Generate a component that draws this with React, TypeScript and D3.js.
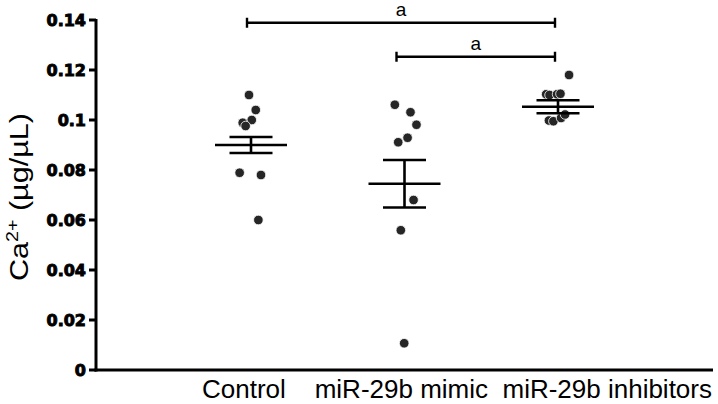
import React, { useRef, useEffect } from "react";
import * as d3 from "d3";

// groups on the x axis
const categories = ["Control", "miR-29b mimic", "miR-29b inhibitors"];

const controlValues = [0.110, 0.104, 0.100, 0.0989, 0.0976, 0.0789, 0.078, 0.060];
const mimicValues = [0.1061, 0.1031, 0.0981, 0.0929, 0.0911, 0.068, 0.0559, 0.0107];
const inhibitorValues = [0.118, 0.1103, 0.110, 0.1103, 0.1105, 0.0998, 0.0995, 0.1008, 0.1022];

// horizontal scatter of each dot, as a fraction of the group spacing
const controlJitter = [-0.013, 0.031, 0.005, -0.054, -0.035, -0.074, 0.065, 0.048];
const mimicJitter = [-0.063, 0.039, 0.078, 0.02, -0.041, 0.059, -0.024, -0.002];
const inhibitorJitter = [0.072, -0.077, -0.055, -0.006, 0.016, -0.059, -0.03, 0.02, 0.046];

// mean ± SEM as plotted
const means = [0.090, 0.0745, 0.1053];
const sems = [0.0032, 0.0095, 0.0026];

// significance brackets
const bracketFrom = ["Control", "miR-29b mimic"];
const bracketTo = ["miR-29b inhibitors", "miR-29b inhibitors"];
const bracketLevel = [0.1389, 0.1253];
const bracketLabel = ["a", "a"];

const yTicks = [0, 0.02, 0.04, 0.06, 0.08, 0.1, 0.12, 0.14];
const yTickLabels = ["0", "0.02", "0.04", "0.06", "0.08", "0.1", "0.12", "0.14"];

const groupValues = [controlValues, mimicValues, inhibitorValues];
const groupJitter = [controlJitter, mimicJitter, inhibitorJitter];

const App = () => {
  const svgRef = useRef(null);

  useEffect(() => {
    const svg = d3.select(svgRef.current);
    svg.selectAll("*").remove();

    const axisX = 96;
    const axisY = 370;

    const x = d3.scalePoint().domain(categories).range([251, 558]);
    const step = x.step();
    const y = d3.scaleLinear().domain([0, 0.14]).range([axisY, 20]);

    const g = svg.append("g");

    // y axis
    g.append("line")
      .attr("x1", axisX).attr("x2", axisX)
      .attr("y1", y(0.14) - 1).attr("y2", axisY + 1.5)
      .attr("stroke", "#000").attr("stroke-width", 3);

    g.selectAll(".ytick")
      .data(yTicks)
      .enter()
      .append("line")
      .attr("x1", axisX - 7).attr("x2", axisX)
      .attr("y1", (d) => y(d)).attr("y2", (d) => y(d))
      .attr("stroke", "#000").attr("stroke-width", 3);

    g.selectAll(".ylabel")
      .data(yTicks)
      .enter()
      .append("text")
      .attr("x", axisX - 10)
      .attr("y", (d) => y(d))
      .attr("dy", "0.36em")
      .attr("text-anchor", "end")
      .attr("font-family", "DejaVu Sans, sans-serif")
      .attr("font-weight", "bold")
      .attr("font-size", 16)
      .attr("fill", "#000")
      .attr("stroke", "#000")
      .attr("stroke-width", 0.9)
      .text((d, i) => yTickLabels[i]);

    // x axis
    g.append("line")
      .attr("x1", axisX - 1.5).attr("x2", 713)
      .attr("y1", axisY).attr("y2", axisY)
      .attr("stroke", "#000").attr("stroke-width", 3);

    // y axis title
    const title = g.append("text")
      .attr("transform", `translate(28,${(y(0) + y(0.14)) / 2 + 2}) rotate(-90)`)
      .attr("text-anchor", "middle")
      .attr("font-family", "Liberation Sans, Arial, sans-serif")
      .attr("font-size", 25)
      .attr("fill", "#000")
      .attr("textLength", 168)
      .attr("lengthAdjust", "spacingAndGlyphs");
    title.append("tspan").text("Ca");
    title.append("tspan").attr("font-size", 16).attr("dy", -10).text("2+");
    title.append("tspan").attr("dy", 10).text(" (µg/µL)");

    // category labels, one line under the axis
    g.append("text")
      .attr("x", 712)
      .attr("y", 398)
      .attr("text-anchor", "end")
      .attr("font-family", "Liberation Sans, Arial, sans-serif")
      .attr("font-size", 26)
      .attr("fill", "#000")
      .style("white-space", "pre")
      .text(`${categories[0]}    ${categories[1]}  ${categories[2]}`);

    // dots
    categories.forEach((c, gi) => {
      g.selectAll(`.dot-${gi}`)
        .data(groupValues[gi])
        .enter()
        .append("circle")
        .attr("class", `dot-${gi}`)
        .attr("cx", (d, i) => x(c) + groupJitter[gi][i] * step)
        .attr("cy", (d) => y(d))
        .attr("r", 4.8)
        .attr("fill", "#262626")
        .attr("stroke", "#fff")
        .attr("stroke-width", 0.8);
    });

    // mean and SEM bars
    categories.forEach((c, gi) => {
      const cx = x(c);
      const m = means[gi];
      const s = sems[gi];
      const bar = g.append("g").attr("stroke", "#000").attr("stroke-width", 2.6);
      bar.append("line")
        .attr("x1", cx - 36).attr("x2", cx + 36)
        .attr("y1", y(m)).attr("y2", y(m));
      bar.append("line")
        .attr("x1", cx).attr("x2", cx)
        .attr("y1", y(m + s)).attr("y2", y(m - s));
      [m + s, m - s].forEach((v) => {
        bar.append("line")
          .attr("x1", cx - 21.5).attr("x2", cx + 21.5)
          .attr("y1", y(v)).attr("y2", y(v));
      });
    });

    // significance brackets
    bracketFrom.forEach((from, i) => {
      const x1 = x(from) - (i === 0 ? 4 : 8);
      const x2 = x(bracketTo[i]) - 3;
      const yy = y(bracketLevel[i]);
      const b = g.append("g").attr("stroke", "#000").attr("stroke-width", 2.4);
      b.append("line").attr("x1", x1).attr("x2", x2).attr("y1", yy).attr("y2", yy);
      b.append("line").attr("x1", x1).attr("x2", x1).attr("y1", yy - 5).attr("y2", yy + 5);
      b.append("line").attr("x1", x2).attr("x2", x2).attr("y1", yy - 5).attr("y2", yy + 5);
      g.append("text")
        .attr("x", (x1 + x2) / 2)
        .attr("y", yy - 7)
        .attr("text-anchor", "middle")
        .attr("font-family", "Liberation Sans, Arial, sans-serif")
        .attr("font-size", 19)
        .attr("fill", "#000")
        .text(bracketLabel[i]);
    });
  }, []);

  return (
    <svg
      ref={svgRef}
      width={718}
      height={404}
      style={{ position: "absolute", left: 0, top: 0, background: "#fff" }}
    ></svg>
  );
};

export default App;
